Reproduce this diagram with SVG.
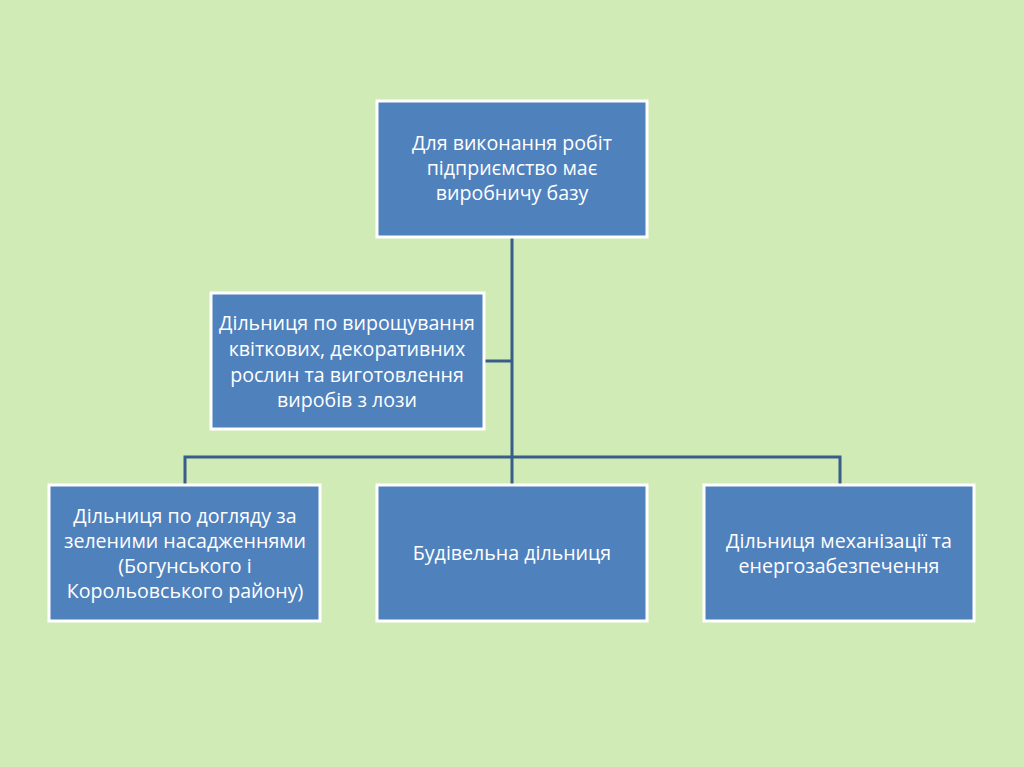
<svg xmlns="http://www.w3.org/2000/svg" width="1024" height="767" viewBox="0 0 1024 767">
<style>
.node rect{fill:#4F81BD;stroke:#FFFFFF;stroke-width:3}
.node text{fill:#FFFFFF;font-family:"Open Sans","Noto Sans","Liberation Sans",sans-serif;font-size:19.6px;text-anchor:middle}
.conn{fill:none;stroke:#385D8A;stroke-width:3}
</style>
<rect x="0" y="0" width="1024" height="767" fill="#D0EBB5"/>
<g id="connectors">
<path class="conn" d="M512 237 V485"/>
<path class="conn" d="M484 361 H512"/>
<path class="conn" d="M185 485 V457 H840 V485"/>
</g>
<g id="top" class="node">
<rect x="377" y="101" width="270" height="136"/>
<text x="512" y="150">Для виконання робіт</text>
<text x="512" y="175">підприємство має</text>
<text x="512" y="200">виробничу базу</text>
</g>
<g id="mid" class="node">
<rect x="211" y="293" width="273" height="136"/>
<text x="347" y="330">Дільниця по вирощування</text>
<text x="347" y="356">квіткових, декоративних</text>
<text x="347" y="382">рослин та виготовлення</text>
<text x="347" y="407">виробів з лози</text>
</g>
<g id="b1" class="node">
<rect x="49" y="485" width="271" height="136"/>
<text x="185" y="523">Дільниця по догляду за</text>
<text x="185" y="548">зеленими насадженнями</text>
<text x="185" y="573">(Богунського і</text>
<text x="185" y="598">Корольовського району)</text>
</g>
<g id="b2" class="node">
<rect x="377" y="485" width="270" height="136"/>
<text x="512" y="560">Будівельна дільниця</text>
</g>
<g id="b3" class="node">
<rect x="704" y="485" width="270" height="136"/>
<text x="839" y="548">Дільниця механізації та</text>
<text x="839" y="573">енергозабезпечення</text>
</g>
</svg>
